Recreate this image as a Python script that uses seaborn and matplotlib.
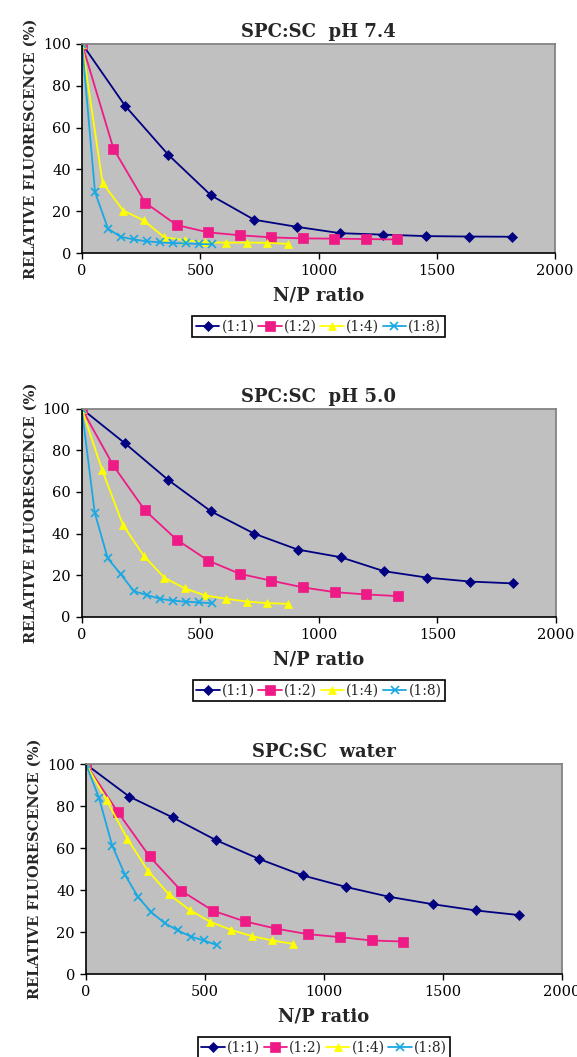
import matplotlib
matplotlib.use("Agg")
import matplotlib.pyplot as plt
import seaborn as sns
import pandas as pd

# N/P ratio for each SPC:SC ratio
x_11 = [0, 182, 364, 546, 728, 910, 1092, 1274, 1456, 1638, 1820]
x_12 = [0, 133, 267, 400, 533, 667, 800, 933, 1067, 1200, 1333]
x_14 = [0, 87, 174, 261, 348, 435, 522, 609, 696, 783, 870]
x_18 = [0, 55, 110, 165, 220, 275, 330, 385, 440, 495, 550]

# pH 7.4
ph74_11 = [100, 70.4, 47.1, 27.6, 16.0, 12.6, 9.6, 8.9, 8.2, 8.0, 7.9]
ph74_12 = [100, 49.9, 24.2, 13.5, 10.0, 8.6, 7.6, 7.1, 7.0, 6.8, 6.6]
ph74_14 = [100, 33.6, 20.4, 15.7, 7.6, 6.3, 5.2, 5.1, 5.1, 5.0, 4.5]
ph74_18 = [100, 29.2, 11.7, 7.8, 6.6, 5.7, 5.2, 4.9, 4.7, 4.4, 4.3]

# pH 5.0
ph50_11 = [100, 83.4, 65.8, 50.6, 39.9, 32.3, 28.6, 21.9, 18.8, 16.9, 16.0]
ph50_12 = [100, 72.7, 51.1, 37.1, 27.0, 20.6, 17.3, 14.1, 11.8, 10.7, 9.9]
ph50_14 = [100, 70.3, 44.1, 29.4, 18.8, 13.6, 10.2, 8.6, 7.3, 6.5, 6.2]
ph50_18 = [100, 50.0, 28.0, 20.4, 12.3, 10.4, 8.6, 7.7, 7.2, 6.9, 6.4]

# water
wat_11 = [100, 84.6, 74.7, 63.9, 54.9, 47.1, 41.6, 36.9, 33.4, 30.4, 28.2]
wat_12 = [100, 77.4, 56.1, 39.8, 30.3, 25.2, 21.7, 19.1, 17.7, 16.1, 15.6]
wat_14 = [100, 82.8, 64.5, 49.2, 38.1, 30.7, 25.0, 21.2, 18.2, 16.1, 14.5]
wat_18 = [100, 83.9, 61.3, 47.1, 36.6, 29.5, 24.4, 20.9, 18.0, 16.1, 13.9]

labels = ["(1:1)", "(1:2)", "(1:4)", "(1:8)"]
colors = ["#000080", "#EE1B86", "#FFFF00", "#1AA8E2"]
markers = ["D", "s", "^", "x"]
msizes = [5, 7, 6, 6]

panels = [
    ("SPC:SC  pH 7.4", [ph74_11, ph74_12, ph74_14, ph74_18]),
    ("SPC:SC  pH 5.0", [ph50_11, ph50_12, ph50_14, ph50_18]),
    ("SPC:SC  water", [wat_11, wat_12, wat_14, wat_18]),
]
xs = [x_11, x_12, x_14, x_18]

# axes rectangles in pixels: left, top, right, bottom
rects = [(82, 43.7, 555, 253.3), (81.7, 408.7, 556, 616.7), (86, 764.3, 562, 974.3)]
legend_tops = [316, 680, 1037]

sns.set_theme(style="ticks")
plt.rcParams["font.family"] = ["DejaVu Serif"]

W, H = 577, 1057
fig = plt.figure(figsize=(W / 100, H / 100), dpi=100)

for (title, series), (l, t, r, b), ltop in zip(panels, rects, legend_tops):
    ax = fig.add_axes([l / W, 1 - b / H, (r - l) / W, (b - t) / H])
    ax.set_facecolor("#C0C0C0")
    for x, y, lab, c, m, ms in zip(xs, series, labels, colors, markers, msizes):
        df = pd.DataFrame({"N/P": x, "RF": y})
        sns.lineplot(data=df, x="N/P", y="RF", ax=ax, color=c, marker=m,
                     markersize=ms, markeredgecolor=c, markeredgewidth=1.2 if m == "x" else 0.5,
                     linewidth=1.3, label=lab, legend=False)
    ax.set_xlim(0, 2000)
    ax.set_ylim(0, 100)
    ax.set_xticks([0, 500, 1000, 1500, 2000])
    ax.set_yticks([0, 20, 40, 60, 80, 100])
    ax.tick_params(labelsize=10.5, length=4, width=1, colors="black", pad=4)
    for s in ["top", "right"]:
        ax.spines[s].set_visible(True)
        ax.spines[s].set_color("#808080")
    for s in ["left", "bottom"]:
        ax.spines[s].set_color("black")
        ax.spines[s].set_linewidth(1.2)
    ax.set_title(title, fontsize=13, fontweight="bold", pad=5)
    ax.set_xlabel("N/P ratio", fontsize=13, fontweight="bold", labelpad=6)
    ax.set_ylabel("RELATIVE FLUORESCENCE (%)", fontsize=10.5, fontweight="bold", labelpad=4)
    h, lb = ax.get_legend_handles_labels()
    leg = fig.legend(h, lb, loc="upper center", ncol=4,
                     bbox_to_anchor=((l + r) / 2 / W, 1 - ltop / H),
                     frameon=True, fancybox=False, edgecolor="black", framealpha=1,
                     fontsize=10, handlelength=1.7, handletextpad=0.15,
                     columnspacing=0.25, borderpad=0.25, borderaxespad=0)
    leg.get_frame().set_linewidth(1.2)

fig.savefig("out.png", dpi=100)
